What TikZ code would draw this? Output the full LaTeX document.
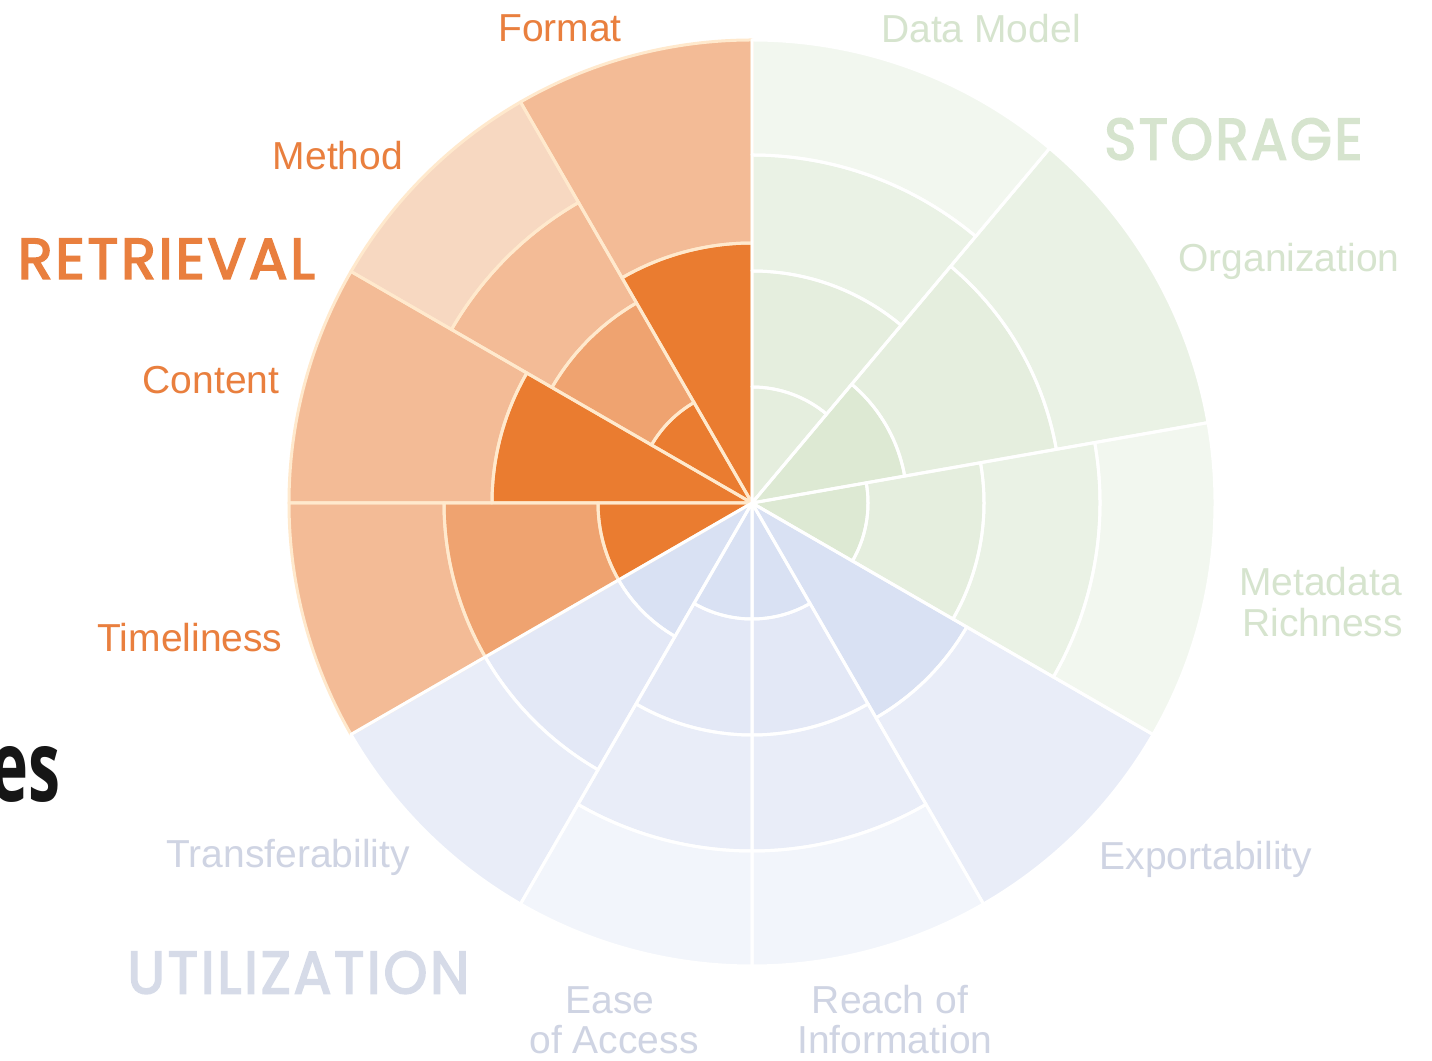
\documentclass[tikz,border=0pt]{standalone}
\usepackage{fontspec}
\setmainfont{Liberation Sans}
\newfontfamily\geo{Poppins}[LetterSpace=5, FakeBold=3]
\newfontfamily\osans{Open Sans}
\usepackage{graphicx}
% orange
\definecolor{oD}{RGB}{234,124,48}
\definecolor{oM}{RGB}{239,163,112}
\definecolor{oL}{RGB}{243,187,150}
\definecolor{oX}{RGB}{247,216,193}
% blue
\definecolor{bA}{RGB}{217,225,243}
\definecolor{bB}{RGB}{227,232,246}
\definecolor{bC}{RGB}{233,237,248}
\definecolor{bD}{RGB}{242,245,251}
% green
\definecolor{gA}{RGB}{221,233,211}
\definecolor{gB}{RGB}{229,238,222}
\definecolor{gC}{RGB}{234,242,229}
\definecolor{gD}{RGB}{242,247,239}
% lines and text
\definecolor{oline}{RGB}{255,233,205}
\definecolor{tOr}{RGB}{233,127,62}
\definecolor{tGr}{RGB}{214,228,206}
\definecolor{tBl}{RGB}{207,212,227}
\definecolor{tBlBig}{RGB}{214,219,232}
\definecolor{esblack}{RGB}{22,22,22}

\newcommand\cellfill[5]{\fill[#5] (#1:#3) arc[start angle=#1,end angle=#2,radius=#3] -- (#2:#4) arc[start angle=#2,end angle=#1,radius=#4] -- cycle;}
\newcommand\celledge[5]{\draw[sepline] (#1:#3) arc[start angle=#1,end angle=#2,radius=#3] -- (#2:#4) arc[start angle=#2,end angle=#1,radius=#4] -- cycle;}

\newcommand\retcells[1]{%
% Format
#1{90}{120}{0.01}{260}{oD}
#1{90}{120}{260}{463}{oL}
% Method
#1{120}{150}{0.01}{116}{oD}
#1{120}{150}{116}{231}{oM}
#1{120}{150}{231}{347}{oL}
#1{120}{150}{347}{463}{oX}
% Content
#1{150}{180}{0.01}{260}{oD}
#1{150}{180}{260}{463}{oL}
% Timeliness
#1{180}{210}{0.01}{154}{oD}
#1{180}{210}{154}{308}{oM}
#1{180}{210}{308}{463}{oL}
}
\newcommand\othercells[1]{%
% Transferability
#1{210}{240}{0.01}{154}{bA}
#1{210}{240}{154}{308}{bB}
#1{210}{240}{308}{463}{bC}
% Ease of Access
#1{240}{270}{0.01}{116}{bA}
#1{240}{270}{116}{232}{bB}
#1{240}{270}{232}{348}{bC}
#1{240}{270}{348}{463}{bD}
% Reach of Information
#1{270}{300}{0.01}{116}{bA}
#1{270}{300}{116}{232}{bB}
#1{270}{300}{232}{348}{bC}
#1{270}{300}{348}{463}{bD}
% Exportability
#1{300}{330}{0.01}{248}{bA}
#1{300}{330}{248}{463}{bC}
% Metadata Richness
#1{330}{370}{0.01}{116}{gA}
#1{330}{370}{116}{232}{gB}
#1{330}{370}{232}{348}{gC}
#1{330}{370}{348}{463}{gD}
% Organization
#1{370}{410}{0.01}{155}{gA}
#1{370}{410}{155}{309}{gB}
#1{370}{410}{309}{463}{gC}
% Data Model
#1{410}{450}{0.01}{116}{gB}
#1{410}{450}{116}{232}{gB}
#1{410}{450}{232}{348}{gC}
#1{410}{450}{348}{463}{gD}
}

\begin{document}
\begin{tikzpicture}[x=1pt,y=1pt,
  sepline/.style={draw=white, line width=3pt, line join=round},
  lab/.style={font=\fontsize{39}{39}\selectfont, inner sep=0pt, anchor=base},
  rlab/.style={lab, text=tOr},
  slab/.style={lab, text=tGr},
  ulab/.style={lab, text=tBl},
  bigword/.style={inner sep=0pt, anchor=south}]
\useasboundingbox (0,0) rectangle (1432,1060);
\fill[white] (0,0) rectangle (1432,1060);

\begin{scope}[shift={(752,557)}]
  \retcells\cellfill
  \othercells\cellfill
  \begin{scope}[sepline/.append style={draw=oline}]
    \retcells\celledge
  \end{scope}
  \othercells\celledge
\end{scope}

% Retrieval labels
\node[rlab] (format) at (560,1018) {Format};
\node[rlab] (method) at (338,890) {Method};
\node[bigword, text=tOr] (retrieval) at (165,781) {\resizebox{294pt}{40pt}{\geo RETRIEVAL\kern-.05em}};
\node[rlab] (content) at (211,666) {Content};
\node[rlab] (timeliness) at (190,408) {Timeliness};

% partial title at left edge
\node[anchor=base east, inner sep=0pt, text=esblack] (es) at (61,258) {\resizebox{70pt}{55pt}{\osans\bfseries es}};

% Utilization labels
\node[ulab] (transfer) at (288,192) {Transferability};
\node[bigword, text=tBlBig] (utilization) at (297,66) {\resizebox{339pt}{42pt}{\geo UTILIZATION\kern-.05em}};
\node[ulab] (ease1) at (610,46) {Ease};
\node[ulab] (ease2) at (614,7) {of Access};
\node[ulab] (reach1) at (890,46) {Reach of};
\node[ulab] (reach2) at (895,7) {Information};
\node[ulab] (export) at (1206,190) {Exportability};

% Storage labels
\node[slab, anchor=base east] (meta1) at (1402,464) {Metadata};
\node[slab, anchor=base east] (meta2) at (1403,423) {Richness};
\node[slab] (organization) at (1289,788) {Organization};
\node[bigword, text=tGr] (storage) at (1232,900) {\resizebox{255pt}{41pt}{\geo STORAGE\kern-.05em}};
\node[slab] (datamodel) at (981,1017) {Data Model};
\end{tikzpicture}
\end{document}
